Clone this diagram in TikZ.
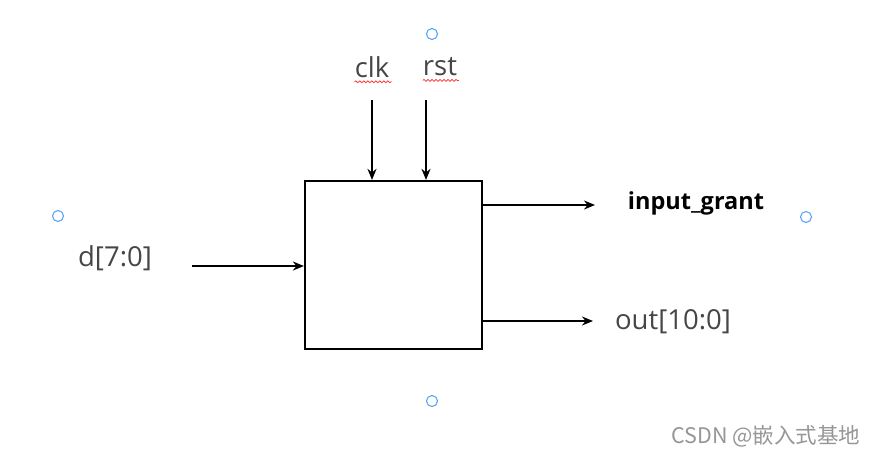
\documentclass[tikz,border=0pt]{standalone}
\usepackage{fontspec}
\setmainfont{Open Sans}
\newfontfamily\cjk{Noto Sans CJK SC}
\usetikzlibrary{arrows.meta,decorations.pathmorphing}
\definecolor{handle}{RGB}{90,165,250}
\definecolor{labelgrey}{RGB}{70,70,70}
\definecolor{markgrey}{RGB}{150,150,150}
\begin{document}
\begin{tikzpicture}[
  x=1pt, y=-1pt,
  sig/.style={line width=2.2pt, -{Stealth[length=11pt,width=9pt]}},
  portlbl/.style={text=labelgrey, font=\fontsize{27.5}{32}\selectfont, inner sep=0pt},
  handledot/.style={circle, draw=handle, line width=1.1pt, minimum size=11pt, inner sep=0pt},
  squiggle/.style={draw=red!80, line width=0.8pt, decorate,
    decoration={snake, amplitude=0.9pt, segment length=4pt}}
]
  \useasboundingbox (0,0) rectangle (881,456);
  % Modul
  \node[draw, line width=2.2pt, minimum width=177pt, minimum height=168pt] (blk) at (393.5,265) {};

  % Vstupy
  \node[portlbl] (clk) at (372,67) {clk};
  \node[portlbl] (rst) at (440,67) {rst};
  \node[portlbl] (d) at (115,258) {d[7:0]};
  \coordinate (clkin) at (372,100);
  \coordinate (rstin) at (426,100);
  \coordinate (din) at (192,266);
  \draw[sig] (clkin) -- (clkin |- blk.north);
  \draw[sig] (rstin) -- (rstin |- blk.north);
  \draw[sig] (din) -- (din -| blk.west);
  % podtržení
  \draw[squiggle] (clk.south west) ++(0,4) -- ++(37,0);
  \draw[squiggle] (rst.south west) ++(0,4) -- ++(36,0);

  % Výstupy
  \coordinate (igout) at (595,205);
  \coordinate (oout) at (593,321);
  \draw[sig] (igout -| blk.east) -- (igout);
  \draw[sig] (oout -| blk.east) -- (oout);
  \node[inner sep=0pt, font=\fontsize{23.5}{27}\selectfont\bfseries] (ig) at (696,203) {input\_grant};
  \node[portlbl] (out) at (673,322) {out[10:0]};

  % Úchyty
  \node[handledot] (h1) at (432,34) {};
  \node[handledot] (h2) at (58,216) {};
  \node[handledot] (h3) at (806,217) {};
  \node[handledot] (h4) at (432,401) {};

  \node[text=markgrey, inner sep=0pt, font=\cjk\fontsize{21.5}{25}\selectfont] (wm) at (766,436) {CSDN @嵌入式基地};
\end{tikzpicture}
\end{document}
